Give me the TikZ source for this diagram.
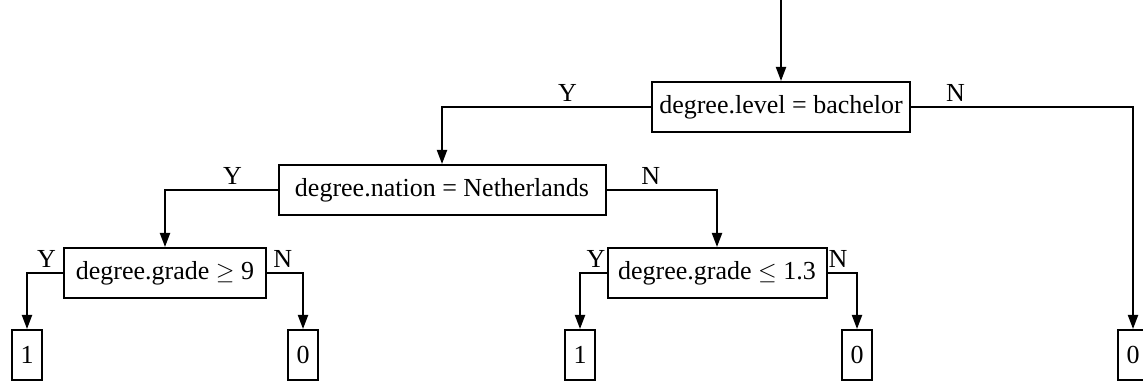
\documentclass[tikz,border=0pt]{standalone}
\usepackage{fontspec}
\setmainfont{Liberation Serif}
\usetikzlibrary{arrows.meta}

\tikzset{
  test/.style={draw,line width=1pt,minimum height=25pt,inner sep=3pt,font=\fontsize{13}{15}\selectfont},
  leaf/.style={draw,line width=1pt,minimum height=25pt,minimum width=15pt,inner sep=2pt,font=\fontsize{13}{15}\selectfont},
  branch/.style={line width=1pt,-{Triangle[width=5pt,length=7pt]}},
  tag/.style={above,inner sep=2pt,font=\fontsize{13}{15}\selectfont}
}

\begin{document}
\begin{tikzpicture}[x=0.5pt,y=-0.5pt]% [ show background grid ]
\useasboundingbox (0,0) rectangle (1143,383);

\coordinate (start) at (781,0);
\node[test,minimum width=129pt] (levelTest) at (781,107) {degree.level = bachelor};
\node[test,minimum width=163.5pt] (nationTest) at (442,190) {degree.nation = Netherlands};
\node[test,minimum width=101pt] (gradeHigh) at (165,273) {degree.grade $\geq$ 9};
\node[test,minimum width=109.5pt] (gradeLow) at (717,273) {degree.grade $\leq$ 1.3};

\node[leaf] (leafA) at (27,355) {1};
\node[leaf] (leafB) at (303,355) {0};
\node[leaf] (leafC) at (580,355) {1};
\node[leaf] (leafD) at (857,355) {0};
\node[leaf] (leafE) at (1133,355) {0};

\draw[branch] (start) -- (levelTest);
\draw[branch] (levelTest.west) -| node[tag,pos=0.2] {Y} (nationTest.north);
\draw[branch] (levelTest.east) -| node[tag,pos=0.1] {N} (leafE.north);

\draw[branch] (nationTest.west) -| node[tag,pos=0.2] {Y} (gradeHigh.north);
\draw[branch] (nationTest.east) -| node[tag,pos=0.2] {N} (gradeLow.north);

\draw[branch] (gradeHigh.west) -| node[tag,pos=0.23] {Y} (leafA.north);
\draw[branch] (gradeHigh.east) -| node[tag,pos=0.22] {N} (leafB.north);
\draw[branch] (gradeLow.west) -| node[tag,pos=0.2] {Y} (leafC.north);
\draw[branch] (gradeLow.east) -| node[tag,pos=0.18] {N} (leafD.north);
\end{tikzpicture}
\end{document}
